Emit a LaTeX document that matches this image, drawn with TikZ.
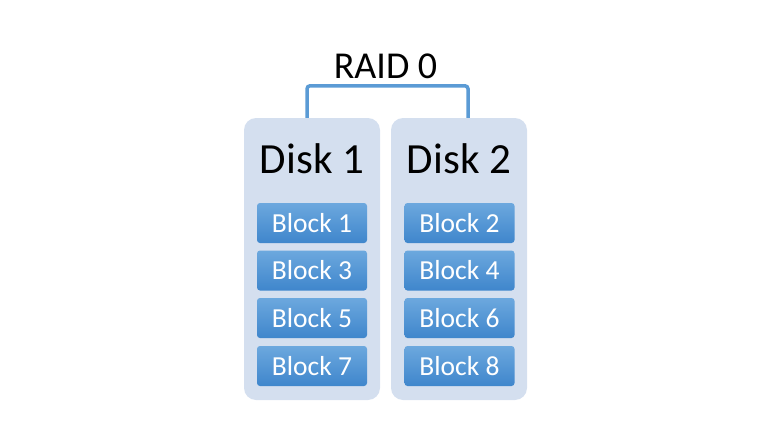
\documentclass[tikz,border=0pt]{standalone}
\usepackage{fontspec}
\setmainfont{Carlito}
\usetikzlibrary{calc}
\definecolor{diskbg}{HTML}{D4DFEF}
\definecolor{blktop}{HTML}{6CA8DE}
\definecolor{blkbot}{HTML}{3F86CC}
\definecolor{brk}{HTML}{5B9BD5}
\tikzset{
  diskbox/.style={fill=diskbg, rounded corners=12pt, minimum width=136pt, minimum height=282pt, inner sep=0pt},
  blockbox/.style={top color=blktop, bottom color=blkbot, rounded corners=3pt, minimum width=110pt, minimum height=40pt, inner sep=0pt, text=white, font=\fontsize{27.5}{27.5}\selectfont},
  disktitle/.style={anchor=base, font=\fontsize{43}{43}\selectfont, inner sep=0pt},
  raidtitle/.style={anchor=base, font=\fontsize{38}{38}\selectfont, inner sep=0pt},
  bracket/.style={draw=brk, line width=3.5pt, rounded corners=3pt}
}
\begin{document}
\begin{tikzpicture}[x=1pt,y=-1pt]
\useasboundingbox (0,0) rectangle (780,439);
\node[diskbox] (d1) at (312,259) {};
\node[diskbox] (d2) at (459,259) {};
\node[disktitle] (t1) at (312,173) {Disk 1};
\node[disktitle] (t2) at (459,173) {Disk 2};
\node[blockbox] (b1) at (312,223) {Block 1};
\node[blockbox] (b3) at (312,270.5) {Block 3};
\node[blockbox] (b5) at (312,318) {Block 5};
\node[blockbox] (b7) at (312,366) {Block 7};
\node[blockbox] (b2) at (459.5,223) {Block 2};
\node[blockbox] (b4) at (459.5,270.5) {Block 4};
\node[blockbox] (b6) at (459.5,318) {Block 6};
\node[blockbox] (b8) at (459.5,366) {Block 8};
\node[raidtitle] (raid) at (385.5,78) {RAID 0};
\coordinate (l1) at ($(d1.north)+(-5,0)$);
\coordinate (r1) at ($(d2.north)+(9,0)$);
\draw[bracket] (l1) -- ($(l1)+(0,-32)$) -- ($(r1)+(0,-32)$) -- (r1);
\end{tikzpicture}
\end{document}
